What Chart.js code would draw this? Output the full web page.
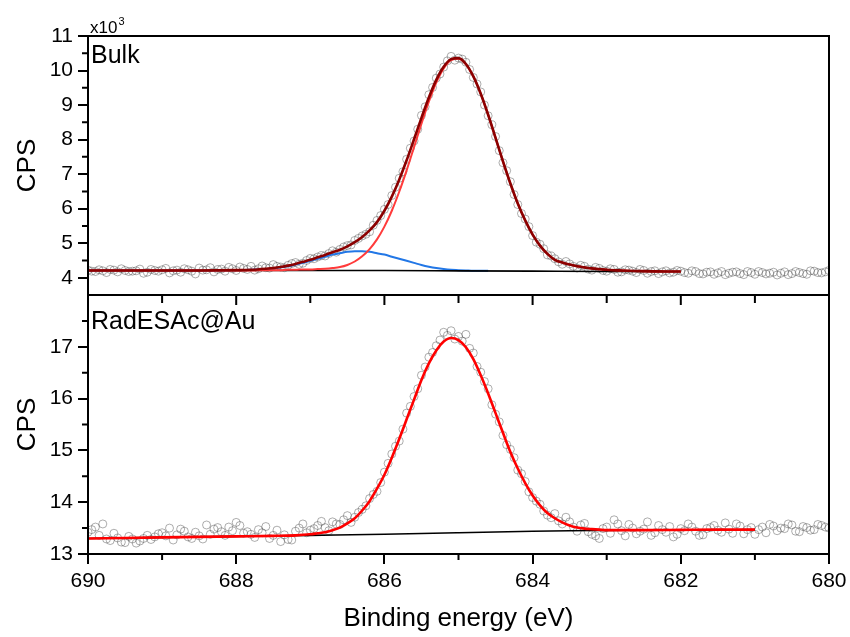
<!DOCTYPE html>
<html>
<head>
<meta charset="utf-8">
<script src="https://cdn.jsdelivr.net/npm/chart.js@4.4.1/dist/chart.umd.min.js"></script>
<style>
  body { margin: 0; background: #fff; }
  #wrap { position: relative; width: 850px; height: 637px; }
  #wrap canvas { position: absolute; left: 0; top: 0; }
</style>
</head>
<body>
<div id="wrap">
  <canvas id="radChart" width="850" height="637"></canvas>
  <canvas id="bulkChart" width="850" height="637"></canvas>
</div>
<script>
// binding energy of the measured points (eV)
const energy = [
  690.0, 689.9, 689.8, 689.7, 689.6, 689.5, 689.4, 689.3, 689.2, 689.1,
  689.0, 688.9, 688.8, 688.7, 688.6, 688.5, 688.4, 688.3, 688.2, 688.1,
  688.0, 687.9, 687.8, 687.7, 687.6, 687.5, 687.4, 687.3, 687.2, 687.1,
  687.0, 686.9, 686.8, 686.7, 686.6, 686.5, 686.4, 686.3, 686.2, 686.1,
  686.0, 685.9, 685.8, 685.7, 685.6, 685.5, 685.4, 685.3, 685.2, 685.1,
  685.0, 684.9, 684.8, 684.7, 684.6, 684.5, 684.4, 684.3, 684.2, 684.1,
  684.0, 683.9, 683.8, 683.7, 683.6, 683.5, 683.4, 683.3, 683.2, 683.1,
  683.0, 682.9, 682.8, 682.7, 682.6, 682.5, 682.4, 682.3, 682.2, 682.1,
  682.0, 681.9, 681.8, 681.7, 681.6, 681.5, 681.4, 681.3, 681.2, 681.1,
  681.0, 680.9, 680.8, 680.7, 680.6, 680.5, 680.4, 680.3, 680.2, 680.1,
  680.0
];
// the in-between scan points
const energyMid = [
  689.95, 689.85, 689.75, 689.65, 689.55, 689.45, 689.35, 689.25, 689.15, 689.05,
  688.95, 688.85, 688.75, 688.65, 688.55, 688.45, 688.35, 688.25, 688.15, 688.05,
  687.95, 687.85, 687.75, 687.65, 687.55, 687.45, 687.35, 687.25, 687.15, 687.05,
  686.95, 686.85, 686.75, 686.65, 686.55, 686.45, 686.35, 686.25, 686.15, 686.05,
  685.95, 685.85, 685.75, 685.65, 685.55, 685.45, 685.35, 685.25, 685.15, 685.05,
  684.95, 684.85, 684.75, 684.65, 684.55, 684.45, 684.35, 684.25, 684.15, 684.05,
  683.95, 683.85, 683.75, 683.65, 683.55, 683.45, 683.35, 683.25, 683.15, 683.05,
  682.95, 682.85, 682.75, 682.65, 682.55, 682.45, 682.35, 682.25, 682.15, 682.05,
  681.95, 681.85, 681.75, 681.65, 681.55, 681.45, 681.35, 681.25, 681.15, 681.05,
  680.95, 680.85, 680.75, 680.65, 680.55, 680.45, 680.35, 680.25, 680.15, 680.05
];

// Bulk, CPS x10^3
const bulkCounts = [
  4.22, 4.18, 4.20, 4.24, 4.17, 4.21, 4.19, 4.25, 4.16, 4.21,
  4.23, 4.14, 4.22, 4.26, 4.19, 4.28, 4.23, 4.17, 4.25, 4.30,
  4.21, 4.27, 4.33, 4.26, 4.29, 4.38, 4.31, 4.36, 4.44, 4.42,
  4.56, 4.60, 4.63, 4.78, 4.82, 4.93, 5.08, 5.21, 5.33, 5.66,
  5.98, 6.38, 6.88, 7.43, 7.96, 8.70, 9.30, 9.78, 10.10, 10.41,
  10.36, 10.24, 9.80, 9.38, 8.69, 8.09, 7.33, 6.78, 6.12, 5.70,
  5.22, 4.97, 4.66, 4.55, 4.39, 4.40, 4.28, 4.33, 4.22, 4.27,
  4.19, 4.24, 4.17, 4.22, 4.15, 4.21, 4.18, 4.12, 4.20, 4.16,
  4.19, 4.13, 4.18, 4.11, 4.17, 4.14, 4.09, 4.16, 4.12, 4.18,
  4.10, 4.15, 4.13, 4.08, 4.17, 4.12, 4.15, 4.10, 4.19, 4.14,
  4.21
];
const bulkCountsMid = [
  4.19, 4.23, 4.15, 4.22, 4.26, 4.18, 4.20, 4.13, 4.24, 4.19,
  4.27, 4.20, 4.16, 4.23, 4.11, 4.22, 4.29, 4.24, 4.19, 4.26,
  4.31, 4.24, 4.22, 4.34, 4.28, 4.33, 4.29, 4.41, 4.39, 4.50,
  4.55, 4.64, 4.70, 4.74, 4.89, 4.95, 5.14, 5.26, 5.52, 5.80,
  6.12, 6.62, 7.07, 7.75, 8.30, 8.95, 9.51, 9.90, 10.28, 10.30,
  10.33, 10.03, 9.61, 9.00, 8.43, 7.68, 7.10, 6.41, 5.86, 5.48,
  5.03, 4.84, 4.63, 4.46, 4.47, 4.33, 4.36, 4.25, 4.30, 4.21,
  4.26, 4.16, 4.23, 4.19, 4.24, 4.13, 4.20, 4.17, 4.14, 4.21,
  4.15, 4.20, 4.12, 4.16, 4.10, 4.18, 4.13, 4.17, 4.09, 4.15,
  4.18, 4.11, 4.16, 4.13, 4.09, 4.18, 4.12, 4.20, 4.15, 4.17
];

// RadESAc@Au, CPS x10^3
const radCounts = [
  13.42, 13.52, 13.58, 13.26, 13.31, 13.22, 13.29, 13.25, 13.36, 13.33,
  13.41, 13.50, 13.37, 13.44, 13.30, 13.35, 13.56, 13.48, 13.43, 13.52,
  13.61, 13.40, 13.38, 13.47, 13.53, 13.36, 13.24, 13.28, 13.44, 13.58,
  13.46, 13.55, 13.51, 13.62, 13.57, 13.74, 13.71, 13.86, 14.07, 14.21,
  14.58, 14.93, 15.18, 15.72, 16.04, 16.45, 16.80, 17.02, 17.28, 17.31,
  17.20, 17.24, 16.88, 16.51, 16.19, 15.70, 15.29, 15.02, 14.62, 14.40,
  14.09, 13.96, 13.75, 13.78, 13.58, 13.62, 13.44, 13.59, 13.38, 13.30,
  13.52, 13.66, 13.45, 13.57, 13.39, 13.48, 13.36, 13.55, 13.42, 13.33,
  13.49, 13.58, 13.44, 13.37, 13.51, 13.46, 13.60, 13.40, 13.54, 13.47,
  13.38, 13.52, 13.57, 13.45, 13.49, 13.56, 13.43, 13.51, 13.47, 13.55,
  13.50
];
const radCountsMid = [
  13.47, 13.36, 13.29, 13.40, 13.23, 13.34, 13.21, 13.30, 13.28, 13.39,
  13.35, 13.27, 13.48, 13.33, 13.42, 13.29, 13.38, 13.51, 13.36, 13.45,
  13.55, 13.43, 13.32, 13.41, 13.30, 13.46, 13.37, 13.27, 13.50, 13.41,
  13.49, 13.63, 13.45, 13.58, 13.66, 13.61, 13.80, 13.93, 14.15, 14.38,
  14.75, 15.08, 15.41, 15.85, 16.19, 16.61, 16.89, 17.13, 17.22, 17.15,
  17.11, 16.97, 16.62, 16.33, 15.88, 15.55, 15.11, 14.86, 14.55, 14.20,
  14.02, 13.83, 13.70, 13.64, 13.71, 13.52, 13.56, 13.43, 13.35, 13.49,
  13.40, 13.58, 13.35, 13.50, 13.44, 13.62, 13.41, 13.47, 13.53, 13.38,
  13.45, 13.52, 13.36, 13.49, 13.55, 13.42, 13.48, 13.58, 13.39, 13.51,
  13.47, 13.41, 13.54, 13.50, 13.58, 13.44, 13.53, 13.46, 13.57, 13.52
];

// fit curves, Bulk
const bulkFitX = [
  690.0, 689.5, 689.0, 688.5, 688.0, 687.8,
  687.6, 687.5, 687.4, 687.3, 687.2, 687.1, 687.0, 686.9, 686.8, 686.7,
  686.6, 686.5, 686.4, 686.3, 686.2, 686.1, 686.0, 685.9, 685.8, 685.7,
  685.6, 685.5, 685.4, 685.3, 685.2, 685.1, 685.0, 684.9, 684.8, 684.7,
  684.6, 684.5, 684.4, 684.3, 684.2, 684.1, 684.0, 683.9, 683.8, 683.7,
  683.6, 683.5, 683.4, 683.3, 683.2, 683.1, 683.0,
  682.8, 682.5, 682.0
];
const bulkMain = [
  4.21, 4.21, 4.21, 4.21, 4.21, 4.21,
  4.22, 4.22, 4.22, 4.23, 4.23, 4.24, 4.24, 4.25, 4.26, 4.28,
  4.31, 4.37, 4.47, 4.62, 4.83, 5.11, 5.48, 5.94, 6.49, 7.11,
  7.78, 8.46, 9.10, 9.65, 10.06, 10.30, 10.34, 10.18, 9.83, 9.33,
  8.72, 8.05, 7.37, 6.73, 6.15, 5.66, 5.25, 4.93, 4.69, 4.52,
  4.44, 4.38, 4.33, 4.30, 4.27, 4.25, 4.23,
  4.21, 4.19, 4.18
];
// minor component, drawn from 690.0 down to 684.6 eV
const bulkMinor = [
  4.21, 4.21, 4.21, 4.21, 4.22, 4.23,
  4.25, 4.27, 4.30, 4.33, 4.38, 4.43, 4.49, 4.55, 4.61, 4.67,
  4.71, 4.75, 4.77, 4.77, 4.75, 4.71, 4.67, 4.61, 4.55, 4.49,
  4.43, 4.37, 4.32, 4.28, 4.25, 4.23, 4.22, 4.21, 4.20, 4.20,
  4.20
];
const bulkEnvelope = [
  4.21, 4.21, 4.21, 4.21, 4.22, 4.23,
  4.26, 4.28, 4.31, 4.35, 4.40, 4.46, 4.52, 4.59, 4.66, 4.74,
  4.81, 4.91, 5.03, 5.18, 5.37, 5.61, 5.94, 6.35, 6.84, 7.40,
  8.01, 8.63, 9.22, 9.73, 10.11, 10.33, 10.36, 10.19, 9.83, 9.33,
  8.72, 8.05, 7.37, 6.73, 6.15, 5.66, 5.25, 4.93, 4.69, 4.52,
  4.44, 4.38, 4.33, 4.30, 4.27, 4.25, 4.23,
  4.21, 4.19, 4.18
];
const bulkBgX = [690, 688, 687, 686, 685, 684, 683, 682];
const bulkBackground = [4.21, 4.21, 4.21, 4.21, 4.20, 4.19, 4.18, 4.18];

// fit curves, RadESAc@Au
const radFitX = [
  690.0, 689.5, 689.0, 688.5, 688.0, 687.5, 687.2,
  687.0, 686.9, 686.8, 686.7, 686.6, 686.5, 686.4, 686.3, 686.2, 686.1,
  686.0, 685.9, 685.8, 685.7, 685.6, 685.5, 685.4, 685.3, 685.2, 685.1,
  685.0, 684.9, 684.8, 684.7, 684.6, 684.5, 684.4, 684.3, 684.2, 684.1,
  684.0, 683.9, 683.8, 683.7, 683.6, 683.5, 683.4, 683.3, 683.2, 683.1,
  683.0, 682.8, 682.5, 682.0, 681.5, 681.0
];
const radFit = [
  13.30, 13.31, 13.32, 13.33, 13.34, 13.35, 13.36,
  13.38, 13.40, 13.42, 13.46, 13.51, 13.59, 13.69, 13.84, 14.02, 14.26,
  14.53, 14.86, 15.22, 15.60, 15.98, 16.36, 16.68, 16.93, 17.10, 17.17,
  17.13, 16.99, 16.76, 16.45, 16.10, 15.72, 15.34, 14.97, 14.65, 14.37,
  14.13, 13.94, 13.79, 13.69, 13.61, 13.55, 13.51, 13.49, 13.48, 13.47,
  13.46, 13.46, 13.46, 13.465, 13.47, 13.47
];
const radBgX = [690, 689, 688, 687, 686, 685.5, 685, 684.5, 684, 683.5, 683, 682, 681];
const radBackground = [13.30, 13.32, 13.34, 13.36, 13.38, 13.395, 13.41, 13.425, 13.44, 13.45, 13.455, 13.465, 13.47];

// ticks
const xMajorTicks = [690, 688, 686, 684, 682, 680];
const xMinorTicks = [689, 687, 685, 683, 681];
const bulkYTicks = [4, 5, 6, 7, 8, 9, 10, 11];
const bulkYMinor = [4.5, 5.5, 6.5, 7.5, 8.5, 9.5, 10.5];
const radYTicks = [13, 14, 15, 16, 17];
const radYMinor = [13.5, 14.5, 15.5, 16.5, 17.5];

Chart.defaults.font.family = "'Liberation Sans', Arial, sans-serif";
Chart.defaults.color = '#000';

function pts(xs, ys) {
  return ys.map(function(y, i) { return { x: xs[i], y: y }; });
}

function dotsSet(xs, ys) {
  return {
    data: pts(xs, ys),
    showLine: false,
    pointRadius: 4,
    pointBorderWidth: 0.7,
    pointBorderColor: 'rgba(60,60,60,0.6)',
    pointBackgroundColor: 'rgba(0,0,0,0)',
    order: 9
  };
}

function lineSet(xs, ys, color, width, order) {
  return {
    data: pts(xs, ys),
    borderColor: color,
    borderWidth: width,
    pointRadius: 0,
    fill: false,
    cubicInterpolationMode: 'monotone',
    order: order
  };
}

// frame, minor ticks and the panel texts
const framePlugin = {
  id: 'frame',
  afterDraw(chart, args, opts) {
    const ctx = chart.ctx;
    const a = chart.chartArea;
    const xs = chart.scales.x, ys = chart.scales.y;
    ctx.save();
    ctx.strokeStyle = '#000';
    ctx.lineWidth = 2;
    ctx.strokeRect(a.left, a.top, a.right - a.left, a.bottom - a.top);
    ctx.beginPath();
    (opts.yMinor || []).forEach(function(v) {
      const y = ys.getPixelForValue(v);
      ctx.moveTo(a.left - 6, y); ctx.lineTo(a.left, y);
    });
    (opts.xMinor || []).forEach(function(v) {
      const x = xs.getPixelForValue(v);
      ctx.moveTo(x, a.bottom); ctx.lineTo(x, a.bottom + 6);
    });
    (opts.topMajor || []).forEach(function(v) {
      const x = xs.getPixelForValue(v);
      ctx.moveTo(x, a.top); ctx.lineTo(x, a.top + 10);
    });
    (opts.topMinor || []).forEach(function(v) {
      const x = xs.getPixelForValue(v);
      ctx.moveTo(x, a.top); ctx.lineTo(x, a.top + 8);
    });
    ctx.stroke();

    ctx.fillStyle = '#000';
    ctx.textBaseline = 'alphabetic';
    ctx.textAlign = 'left';
    const fam = "'Liberation Sans', Arial, sans-serif";
    ctx.font = '25px ' + fam;
    ctx.fillText(opts.name, a.left + 3, a.top + opts.nameDy);
    if (opts.exponent) {
      ctx.font = '17px ' + fam;
      ctx.fillText('x10', a.left + 2, a.top - 3);
      const w = ctx.measureText('x10').width;
      ctx.font = '11px ' + fam;
      ctx.fillText('3', a.left + 2 + w + 1, a.top - 11);
    }
    ctx.restore();
  }
};

function yScale(min, max, tickVals) {
  return {
    type: 'linear',
    min: min,
    max: max,
    afterBuildTicks: function(s) { s.ticks = tickVals.map(function(v) { return { value: v }; }); },
    afterFit: function(s) { s.width = 88; s.paddingTop = 0; s.paddingBottom = 0; },
    grid: { drawOnChartArea: false, color: '#000', lineWidth: 2, tickLength: 10 },
    border: { display: false },
    ticks: { font: { size: 21 }, color: '#000', padding: 5 },
    title: { display: true, text: 'CPS', color: '#000', font: { size: 26 }, padding: { top: 12, bottom: 0 } }
  };
}

new Chart(document.getElementById('bulkChart'), {
  type: 'line',
  data: {
    datasets: [
      dotsSet(energy, bulkCounts),
      dotsSet(energyMid, bulkCountsMid),
      lineSet(bulkFitX, bulkMinor, '#2277e6', 2, 4),
      lineSet(bulkBgX, bulkBackground, '#000000', 1.6, 3),
      lineSet(bulkFitX, bulkMain, '#ff3b3b', 2, 2),
      lineSet(bulkFitX, bulkEnvelope, '#8b0000', 2.6, 1)
    ]
  },
  options: {
    responsive: false,
    animation: false,
    events: [],
    layout: { padding: { left: 0, right: 21, top: 36, bottom: 342 } },
    plugins: {
      legend: { display: false },
      tooltip: { enabled: false },
      frame: { yMinor: bulkYMinor, name: 'Bulk', nameDy: 27, exponent: true }
    },
    scales: {
      x: { type: 'linear', min: 680, max: 690, reverse: true, display: false },
      y: yScale(3.5, 11, bulkYTicks)
    }
  },
  plugins: [framePlugin]
});

new Chart(document.getElementById('radChart'), {
  type: 'line',
  data: {
    datasets: [
      dotsSet(energy, radCounts),
      dotsSet(energyMid, radCountsMid),
      lineSet(radBgX, radBackground, '#000000', 1.6, 2),
      lineSet(radFitX, radFit, '#ff0000', 2.6, 1)
    ]
  },
  options: {
    responsive: false,
    animation: false,
    events: [],
    layout: { padding: { left: 0, right: 21, top: 295, bottom: 0 } },
    plugins: {
      legend: { display: false },
      tooltip: { enabled: false },
      frame: {
        yMinor: radYMinor, xMinor: xMinorTicks,
        topMajor: [688, 686, 684, 682], topMinor: xMinorTicks,
        name: 'RadESAc@Au', nameDy: 34, exponent: false
      }
    },
    scales: {
      x: {
        type: 'linear',
        min: 680,
        max: 690,
        reverse: true,
        afterBuildTicks: function(s) { s.ticks = xMajorTicks.map(function(v) { return { value: v }; }); },
        afterFit: function(s) { s.height = 83; s.paddingLeft = 0; s.paddingRight = 0; },
        grid: { drawOnChartArea: false, color: '#000', lineWidth: 2, tickLength: 10 },
        border: { display: false },
        ticks: { font: { size: 21 }, color: '#000', padding: 5, maxRotation: 0, autoSkip: false },
        title: { display: true, text: 'Binding energy (eV)', color: '#000', font: { size: 26 }, padding: { top: 0, bottom: 3 } }
      },
      y: yScale(13, 18, radYTicks)
    }
  },
  plugins: [framePlugin]
});
</script>
</body>
</html>
